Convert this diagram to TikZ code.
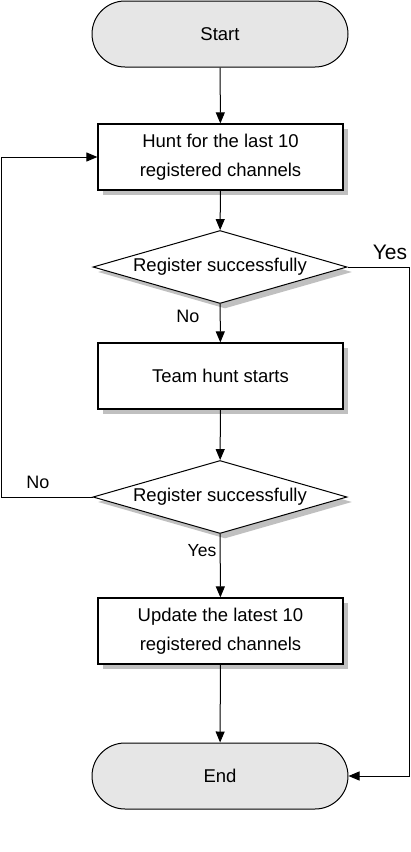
\documentclass[tikz,border=0pt]{standalone}
\usepackage{fontspec}
\setmainfont{Liberation Sans}
\usetikzlibrary{shapes.geometric,shadows,arrows.meta}
\definecolor{termfill}{HTML}{E6E6E6}
\definecolor{shadowgray}{HTML}{C0C0C0}
\begin{document}
\begin{tikzpicture}[x=1pt,y=-1pt,
  txt/.style={font=\fontsize{18.5}{29}\selectfont},
  term/.style={txt,draw,line width=1pt,fill=termfill,rounded corners=33pt,minimum width=256pt,minimum height=66pt,inner sep=0pt},
  procbox/.style={txt,draw,line width=1.2pt,fill=white,minimum width=245pt,minimum height=66pt,inner sep=0pt,align=center,
    drop shadow={shadow xshift=5pt,shadow yshift=-5pt,fill=shadowgray,opacity=1}},
  decision/.style={txt,draw,line width=1pt,fill=white,diamond,minimum width=254pt,minimum height=73pt,inner sep=0pt,
    drop shadow={shadow xshift=5pt,shadow yshift=-5pt,fill=shadowgray,opacity=1}},
  conn/.style={line width=1pt,-{Triangle[length=11pt,width=9pt]}},
  lbl/.style={font=\fontsize{18}{20}\selectfont,inner sep=0pt}
]
\useasboundingbox (0,0) rectangle (410,852);
\node[term] (start) at (220,34) {Start};
\node[procbox] (hunt) at (220.5,157) {Hunt for the last 10\\registered channels};
\node[decision] (d1) at (220,267) {\makebox[0pt]{Register successfully}};
\node[procbox] (team) at (220.5,376) {Team hunt starts};
\node[decision] (d2) at (220,497) {\makebox[0pt]{Register successfully}};
\node[procbox] (upd) at (220.5,631) {Update the latest 10\\registered channels};
\node[term] (end) at (220,776) {End};

\coordinate (yesr) at (409,267);
\coordinate (nol) at (1,497);

\draw[conn] (start) -- (hunt);
\draw[conn] (hunt) -- (d1);
\draw[conn] (d1) -- (team);
\draw[conn] (team) -- (d2);
\draw[conn] (d2) -- (upd);
\draw[conn] (upd) -- (end);
\draw[conn] (d1.east) -- (yesr) |- (end.east);
\draw[conn] (d2.west) -- (nol) |- (hunt.west);

\node[lbl,font=\fontsize{21}{23}\selectfont] (yes1) at (390,252) {Yes};
\node[lbl] (no1) at (188,316) {No};
\node[lbl] (no2) at (38,482) {No};
\node[lbl,font=\fontsize{17.5}{20}\selectfont] (yes2) at (202,551) {Yes};
\end{tikzpicture}
\end{document}
